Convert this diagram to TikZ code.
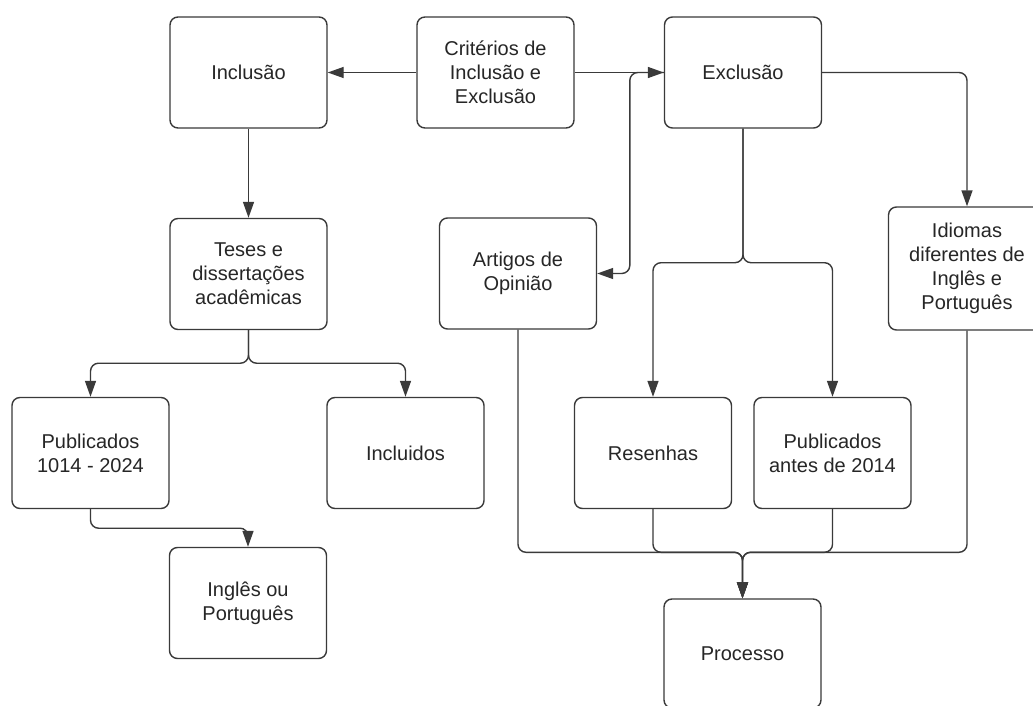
\documentclass[tikz,border=0pt]{standalone}
\usepackage{fontspec}
\setmainfont{Liberation Sans}
\usetikzlibrary{arrows.meta,calc}
\definecolor{ln}{HTML}{3A3A3A}
\definecolor{tx}{HTML}{262626}
\tikzset{
  box/.style={draw=ln, line width=1.4pt, rounded corners=8pt, rectangle,
    minimum width=157pt, minimum height=111pt, inner sep=0pt, align=center,
    text=tx, font=\fontsize{20}{24}\selectfont},
  conn/.style={draw=ln, line width=1.4pt, rounded corners=8pt},
  arr/.style={conn, -{Triangle[length=16pt,width=11pt]}}
}
\begin{document}
\begin{tikzpicture}[x=1pt,y=-1pt]
\useasboundingbox (0,0) rectangle (1033,706);
\clip (0,0) rectangle (1033,706);
\fill[white] (0,0) rectangle (1033,706);
\node[box] (inc) at (248.5,72.5) {Inclusão};
\node[box] (crit) at (495.5,72.5) {Critérios de\\Inclusão e\\Exclusão};
\node[box] (exc) at (743,72.5) {Exclusão};
\node[box] (teses) at (248.5,274) {Teses e\\dissertações\\acadêmicas};
\node[box] (art) at (518,273.5) {Artigos de\\Opinião};
\node[box, minimum height=123pt] (idi) at (967,268.5) {Idiomas\\diferentes de\\Inglês e\\Português};
\node[box] (pub) at (90.5,453) {Publicados\\1014 - 2024};
\node[box] (incl) at (405.5,453) {Incluidos};
\node[box] (res) at (653,453) {Resenhas};
\node[box] (pant) at (832.5,453) {Publicados\\antes de 2014};
\node[box] (ing) at (248,603) {Inglês ou\\Português};
\node[box, minimum height=109pt] (proc) at (742.5,653.5) {Processo};

\draw[arr] (crit.west) -- (inc.east);
\draw[arr] (crit.east) -- (exc.west);
\draw[arr] (exc.west) -- ++(-34,0) |- (art.east);
\draw[arr] (exc.east) -| (idi.north);
\draw[arr] (exc.south) -- ++(0,134) -| (res.north);
\draw[arr] (exc.south) -- ++(0,134) -| (pant.north);
\draw[arr] (inc.south) -- (teses.north);
\draw[arr] (teses.south) -- ++(0,33) -| (pub.north);
\draw[arr] (teses.south) -- ++(0,33) -| (incl.north);
\draw[arr] (pub.south) -- ++(0,19) -| (ing.north);
\coordinate (m) at ($(proc.north)+(0,-46)$);
\draw[arr] (art.south) |- (m) -- (proc.north);
\draw[arr] (res.south) |- (m) -- (proc.north);
\draw[arr] (pant.south) |- (m) -- (proc.north);
\draw[arr] (idi.south) |- (m) -- (proc.north);
\end{tikzpicture}
\end{document}
